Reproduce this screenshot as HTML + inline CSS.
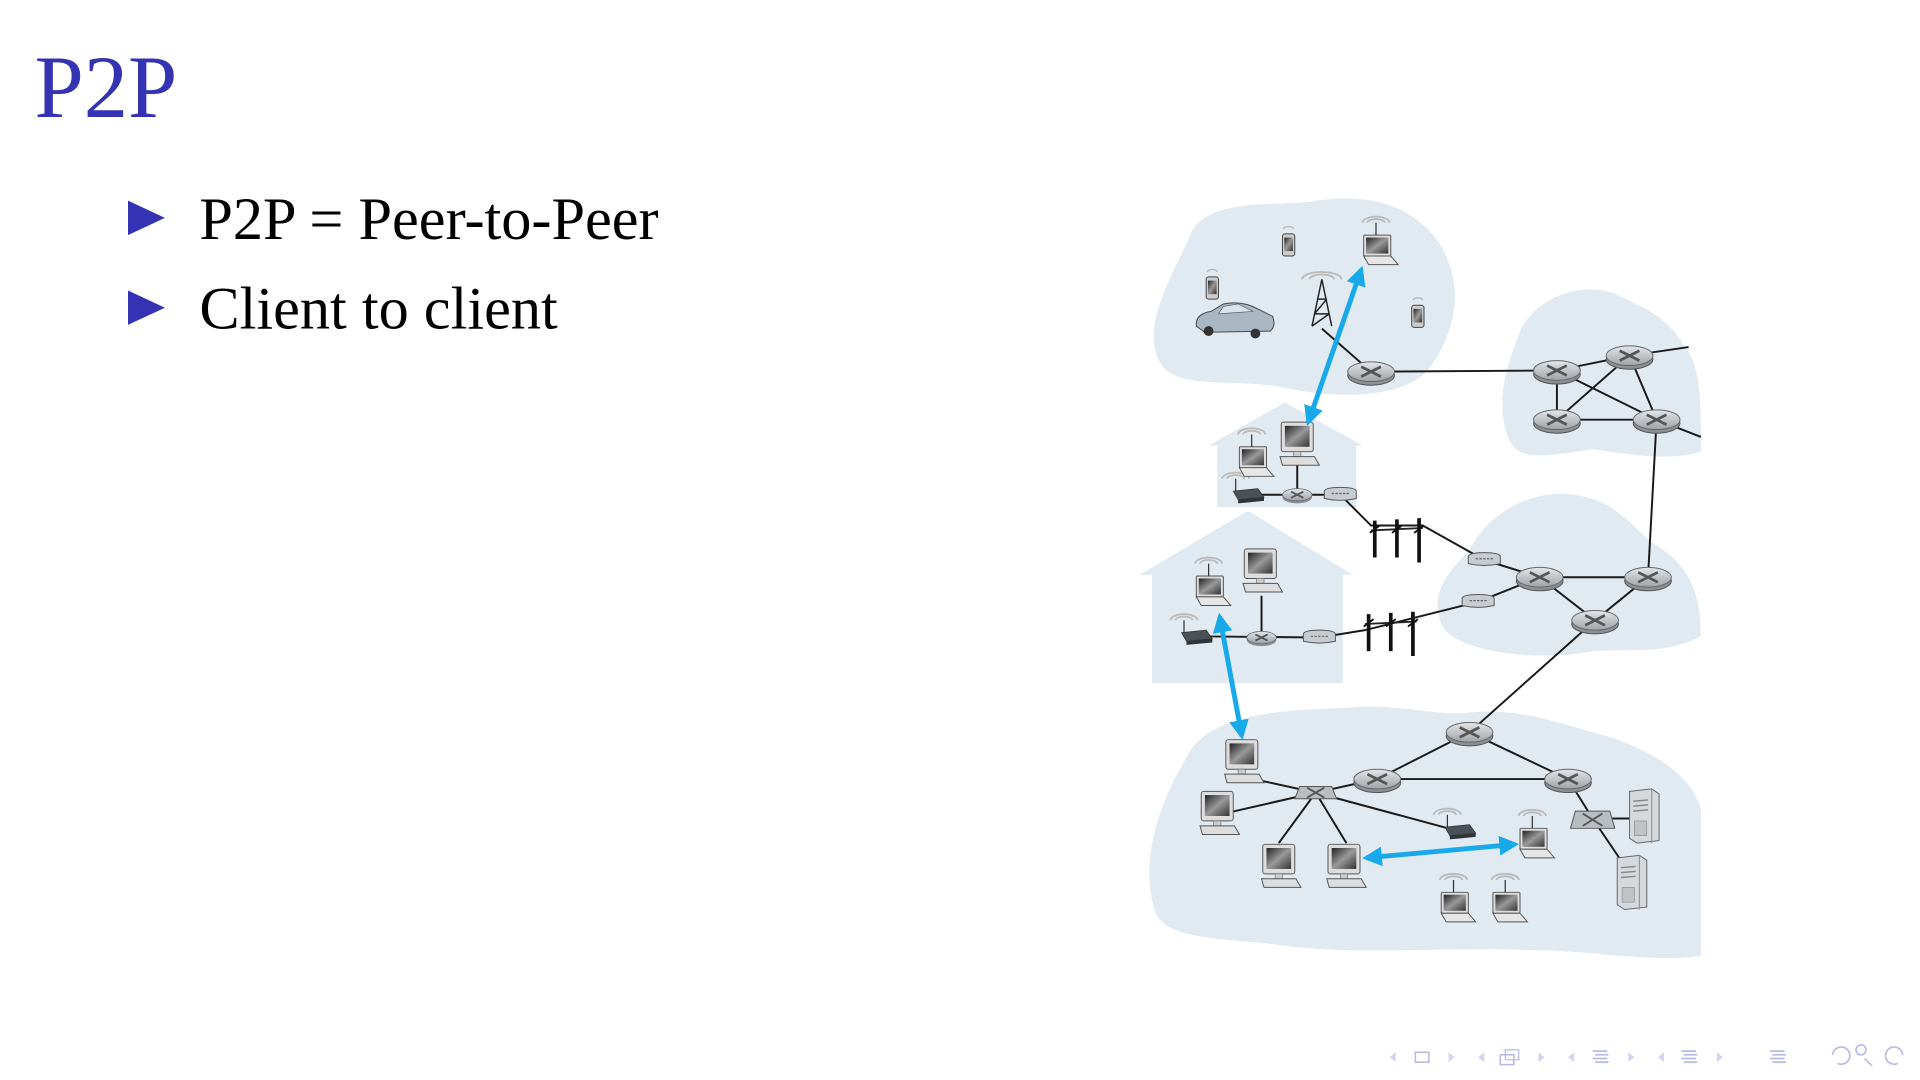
<!DOCTYPE html>
<html><head><meta charset="utf-8"><style>
html,body{margin:0;padding:0;background:#fff;width:1920px;height:1080px;overflow:hidden}
svg{display:block}
</style></head><body>
<svg width="1920" height="1080" viewBox="0 0 1560 877.5" xmlns="http://www.w3.org/2000/svg">
<defs>
<linearGradient id="scr" x1="0" y1="0" x2="1" y2="1"><stop offset="0" stop-color="#222"/><stop offset="0.5" stop-color="#999"/><stop offset="1" stop-color="#333"/></linearGradient>
<linearGradient id="rt" x1="0" y1="0" x2="0" y2="1"><stop offset="0" stop-color="#e4e6e8"/><stop offset="1" stop-color="#9ea3a8"/></linearGradient>
<g id="router"><ellipse cx="0" cy="3" rx="19" ry="8" fill="#8a8f94" stroke="#555" stroke-width="0.8"/><ellipse cx="0" cy="0" rx="19" ry="8" fill="url(#rt)" stroke="#666" stroke-width="0.8"/><path d="M-8,-4 L8,4 M-8,4 L8,-4" stroke="#555" stroke-width="2.2"/></g>
<g id="rs"><ellipse cx="0" cy="2" rx="12" ry="5" fill="#8a8f94"/><ellipse cx="0" cy="0" rx="12" ry="5" fill="url(#rt)" stroke="#666" stroke-width="0.6"/><path d="M-5,-2.5 L5,2.5 M-5,2.5 L5,-2.5" stroke="#555" stroke-width="1.5"/></g>
<g id="pc"><rect x="-13" y="-16" width="26" height="24" rx="2" fill="#ddd" stroke="#555" stroke-width="0.8"/><rect x="-10" y="-13" width="20" height="17" fill="url(#scr)"/><rect x="-3" y="8" width="6" height="4" fill="#ccc" stroke="#666" stroke-width="0.5"/><path d="M-14,12 L14,12 L18,19 L-12,19 Z" fill="#ddd" stroke="#555" stroke-width="0.8"/></g>
<g id="lap"><rect x="-11" y="-14" width="22" height="17" rx="1" fill="#ddd" stroke="#555" stroke-width="0.8"/><rect x="-9" y="-12" width="18" height="13" fill="url(#scr)"/><path d="M-11,3 L11,3 L17,10 L-7,10 Z" fill="#e6e6e6" stroke="#555" stroke-width="0.8"/><line x1="-1" y1="-14" x2="-1" y2="-24" stroke="#333" stroke-width="1"/><path d="M-8,-24 a7,3 0 0 1 14,0 M-12,-24 a11,5 0 0 1 22,0" fill="none" stroke="#bbb" stroke-width="1.5"/></g>
<g id="phone"><rect x="-5" y="-9" width="10" height="18" rx="2" fill="#ccc" stroke="#444" stroke-width="0.8"/><rect x="-3.5" y="-6" width="7" height="11" fill="url(#scr)"/><path d="M-4,-13 a4,2 0 0 1 8,0" fill="none" stroke="#bbb" stroke-width="1.2"/></g>
<g id="modem"><path d="M-13,-4 Q-12,-7 0,-7 Q12,-7 13,-4 L13,2 Q0,5 -13,2 Z" fill="#c8ccd0" stroke="#555" stroke-width="0.8"/><line x1="-7" y1="-2" x2="7" y2="-2" stroke="#666" stroke-width="1" stroke-dasharray="2,1"/></g>
<g id="wap"><path d="M-12,-3 L8,-5 L13,2 L-8,4 Z" fill="#4a5258" stroke="#333" stroke-width="0.6"/><path d="M-8,4 L13,2 L13,5 L-8,7 Z" fill="#2e3438"/><line x1="-10" y1="-3" x2="-10" y2="-13" stroke="#333" stroke-width="1"/><path d="M-17,-13 a7,3 0 0 1 14,0 M-21,-13 a11,5 0 0 1 22,0" fill="none" stroke="#bbb" stroke-width="1.5"/></g>
<g id="pole"><path d="M-21,-2 L21,-4" stroke="#222" stroke-width="1.5"/><path d="M-18,-10 L-18,20 M0,-11 L0,20 M18,-12 L18,24" stroke="#111" stroke-width="3"/><path d="M-22,0 L-14,-6 M-4,0 L4,-6 M14,0 L22,-6" stroke="#111" stroke-width="1.5"/></g>
<g id="srv"><path d="M-10,-20 L8,-22 L14,-18 L14,20 L-4,22 L-10,18 Z" fill="#d6d9dc" stroke="#666" stroke-width="0.8"/><path d="M8,-22 L8,22" stroke="#999"/><path d="M-7,-12 L5,-13 M-7,-8 L5,-9 M-7,-4 L5,-5" stroke="#888" stroke-width="1.2"/><rect x="-6" y="4" width="10" height="12" fill="#bfc3c6" stroke="#888" stroke-width="0.5"/></g>
<marker id="ah" viewBox="0 0 10 10" refX="8" refY="5" markerWidth="4" markerHeight="4" orient="auto-start-reverse"><path d="M0,0 L10,5 L0,10 Z" fill="#18a9ea"/></marker>
</defs>

<!-- text -->
<text x="28" y="95" font-family="Liberation Serif, serif" font-size="72" fill="#3333b3">P2P</text>
<path d="M104,163 L134,177 L104,191 Z" fill="#3333b3"/>
<path d="M104,236 L134,250 L104,264 Z" fill="#3333b3"/>
<text x="162" y="194" font-family="Liberation Serif, serif" font-size="49" fill="#000">P2P = Peer-to-Peer</text>
<text x="162" y="267" font-family="Liberation Serif, serif" font-size="49" fill="#000">Client to client</text>

<g transform="translate(-6,-3)">
<!-- clouds -->
<g fill="#e1e9f1">
<path d="M950,300 C930,270 960,225 975,190 C990,165 1040,170 1070,167 C1110,160 1150,165 1175,200 C1200,240 1185,280 1165,305 C1140,330 1080,325 1050,318 C1010,310 965,320 950,300 Z"/>
<path d="M1232,360 C1220,330 1230,300 1242,270 C1258,240 1300,230 1325,245 C1345,255 1360,260 1375,285 C1388,300 1388,330 1388,370 C1360,378 1330,372 1300,368 C1270,372 1240,380 1232,360 Z"/>
<path d="M1180,515 C1165,490 1180,470 1200,450 C1215,420 1250,400 1285,405 C1320,410 1330,430 1350,445 C1375,460 1388,480 1388,520 C1360,535 1330,530 1300,532 C1260,540 1200,535 1180,515 Z"/>
<path d="M945,745 C930,700 950,650 975,610 C1000,580 1060,580 1100,578 C1140,574 1170,585 1200,582 C1240,578 1270,590 1300,598 C1340,608 1380,630 1388,660 L1388,780 C1340,785 1300,775 1250,775 C1180,772 1100,780 1040,770 C990,765 955,765 945,745 Z"/>
<path d="M988,365 L1050,330 L1113,365 L1108,365 L1108,415 L995,415 L995,365 Z"/>
<path d="M932,470 L1020,418 L1105,470 L1097,470 L1097,558 L942,558 L942,470 Z"/>
</g>

<!-- wires -->
<g stroke="#1a1a1a" stroke-width="1.6" fill="none">
<path d="M1120,305 L1271,304 M1080,270 L1120,305"/>
<path d="M1271,304 L1330,292 M1271,304 L1271,344 M1271,344 L1352,344 M1271,304 L1352,344 M1330,292 L1271,344 M1330,292 L1352,344 M1330,292 L1378,285 M1352,344 L1388,358"/>
<path d="M1352,344 L1345,472"/>
<path d="M1212,458 L1257,472 M1207,492 L1257,472 M1257,472 L1345,472 M1257,472 L1302,507 M1302,507 L1345,472 M1302,507 L1200,598"/>
<path d="M1020,405 L1095,405 M1060,405 L1060,380 M1095,405 L1120,430 L1162,430 L1212,458"/>
<path d="M978,520 L1078,521 M1031,521 L1031,487 M1078,521 L1115,515 L1207,492"/>
<path d="M1200,598 L1125,636 M1200,598 L1280,636 M1125,636 L1280,636 M1125,636 L1075,647"/>
<path d="M1075,647 L1020,635 M1075,647 L1005,663 M1075,647 L1045,688 M1075,647 L1100,688 M1075,647 L1190,678"/>
<path d="M1280,636 L1300,668 M1300,668 L1335,668 M1300,668 L1325,705"/>
</g>

<use href="#pole" x="1141" y="436"/>
<use href="#pole" x="1136" y="512"/>

<use href="#router" x="1120" y="305"/>
<use href="#router" x="1271" y="304"/>
<use href="#router" x="1330" y="292"/>
<use href="#router" x="1271" y="344"/>
<use href="#router" x="1352" y="344"/>
<use href="#router" x="1257" y="472"/>
<use href="#router" x="1345" y="472"/>
<use href="#router" x="1302" y="507"/>
<use href="#router" x="1200" y="598"/>
<use href="#router" x="1125" y="636"/>
<use href="#router" x="1280" y="636"/>
<use href="#rs" x="1060" y="405"/>
<use href="#rs" x="1031" y="521"/>
<g><path d="M1062,642 L1088,642 L1092,652 L1058,652 Z" fill="#b8bdc2" stroke="#555" stroke-width="0.8"/><path d="M1068,643 L1082,651 M1068,651 L1082,643" stroke="#555" stroke-width="1.5"/></g>
<g><path d="M1286,662 L1314,662 L1318,676 L1282,676 Z" fill="#b8bdc2" stroke="#555" stroke-width="0.8"/><path d="M1292,664 L1308,674 M1292,674 L1308,664" stroke="#555" stroke-width="1.5"/></g>
<use href="#modem" x="1095" y="406"/>
<use href="#modem" x="1078" y="522"/>
<use href="#modem" x="1212" y="459"/>
<use href="#modem" x="1207" y="493"/>
<use href="#wap" x="1020" y="405"/>
<use href="#wap" x="978" y="520"/>
<use href="#wap" x="1192" y="678"/>
<use href="#pc" x="1060" y="362"/>
<use href="#pc" x="1030" y="465"/>
<use href="#pc" x="1015" y="620"/>
<use href="#pc" x="995" y="662"/>
<use href="#pc" x="1045" y="705"/>
<use href="#pc" x="1098" y="705"/>
<use href="#lap" x="1125" y="208"/>
<use href="#lap" x="1024" y="380"/>
<use href="#lap" x="989" y="485"/>
<use href="#lap" x="1252" y="690"/>
<use href="#lap" x="1188" y="742"/>
<use href="#lap" x="1230" y="742"/>
<use href="#phone" x="1053" y="202"/>
<use href="#phone" x="991" y="237"/>
<use href="#phone" x="1158" y="260"/>
<use href="#srv" x="1340" y="666"/>
<use href="#srv" x="1330" y="720"/>
<g><path d="M978,268 Q977,258 990,256 L1000,250 Q1015,247 1028,254 L1040,260 Q1043,268 1038,272 L985,273 Z" fill="#a9b7c2" stroke="#444" stroke-width="0.8"/><path d="M1000,252 L1012,250 L1024,256 L996,258 Z" fill="#d6e3ec" stroke="#555" stroke-width="0.5"/><circle cx="988" cy="272" r="4" fill="#333"/><circle cx="1026" cy="274" r="4" fill="#333"/></g>
<g stroke="#222" stroke-width="1.2" fill="none"><path d="M1080,230 L1072,268 M1080,230 L1088,268 M1074,258 L1086,258 M1076,246 L1084,246 M1074,258 L1084,246 M1072,268 L1086,258"/><path d="M1070,230 a10,4 0 0 1 20,0 M1064,230 a16,6 0 0 1 32,0" stroke="#bbb" stroke-width="1.5"/></g>

<g stroke="#18a9ea" stroke-width="4" fill="none" marker-start="url(#ah)" marker-end="url(#ah)">
<line x1="1112" y1="222" x2="1069" y2="346"/>
<line x1="997" y1="504" x2="1015" y2="601"/>
<line x1="1116" y1="700" x2="1237" y2="689"/>
</g>

<g fill="#b8bbe6" stroke="#b8bbe6">
<path d="M1140,858 L1135,862 L1140,866 Z M1183,858 L1188,862 L1183,866 Z M1212,858 L1207,862 L1212,866 Z M1256,858 L1261,862 L1256,866 Z M1285,858 L1280,862 L1285,866 Z M1329,858 L1334,862 L1329,866 Z M1358,858 L1353,862 L1358,866 Z M1401,858 L1406,862 L1401,866 Z" stroke="none" fill="#d3d5f0"/>
<rect x="1156" y="858" width="11" height="8" fill="none" stroke-width="1.3"/>
<rect x="1225" y="860" width="11" height="8" fill="none" stroke-width="1.3"/><rect x="1229" y="856" width="11" height="8" fill="none" stroke-width="1"/>
<path d="M1300,857 H1312 M1302,860 H1313 M1300,863 H1312 M1302,866 H1313 M1372,857 H1384 M1374,860 H1385 M1372,863 H1384 M1374,866 H1385 M1444,857 H1456 M1446,860 H1457 M1444,863 H1456 M1446,866 H1457" stroke-width="1.4" fill="none"/>
<path d="M1495,860 a7,7 0 1 1 4,7 M1518,860 a4,4 0 1 1 0.1,0 M1521,863 L1527,869 M1552,860 a7,7 0 1 0 -4,7" fill="none" stroke-width="1.4"/>
</g>
</g>
</svg>
</body></html>
